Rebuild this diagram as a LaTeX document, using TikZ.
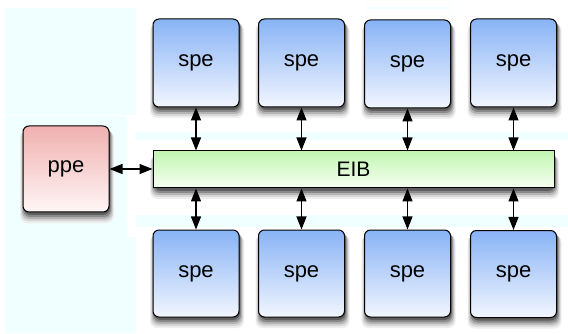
\documentclass[tikz,border=0pt]{standalone}
\usepackage{fontspec}
\setmainfont{Liberation Sans}
\usetikzlibrary{arrows.meta}
\definecolor{pale}{HTML}{F0FFFF}
\definecolor{speTop}{HTML}{88B3F5}
\definecolor{speBot}{HTML}{F2F6FF}
\definecolor{ppeTop}{HTML}{F0B0B0}
\definecolor{ppeBot}{HTML}{FFF6F6}
\definecolor{eibTop}{HTML}{C2F5B2}
\definecolor{eibBot}{HTML}{F6FFF2}
\definecolor{shA}{HTML}{EEEEEE}
\definecolor{shB}{HTML}{D6D6D6}
\definecolor{shC}{HTML}{B4B4B4}
\definecolor{shD}{HTML}{8A8A8A}
\definecolor{shE}{HTML}{5E5E5E}
\tikzset{
  unitbox/.style={draw=black,line width=1pt,rounded corners=6pt,
    minimum width=86pt,minimum height=88pt,font=\fontsize{22}{26}\selectfont},
  spebox/.style={unitbox,top color=speTop,bottom color=speBot},
  ppebox/.style={unitbox,top color=ppeTop,bottom color=ppeBot,minimum height=86pt},
  busbox/.style={draw=black,line width=1pt,top color=eibTop,bottom color=eibBot,
    minimum width=401pt,minimum height=37pt,font=\fontsize{21}{24}\selectfont},
  biarrow/.style={line width=1.2pt,>={Triangle[length=13pt,width=10pt]},<->},
  bgrect/.style={fill=pale,draw=none},
  shnode/.style={draw=none,fill=#1,rounded corners=7pt,inner sep=0pt,outer sep=0pt}
}
% #1 name, #2 #3 centre (y downwards), #4 width, #5 height
\newcommand\shadownodes[5]{%
  \node[shnode=shA,minimum width=#4pt+8pt,minimum height=#5pt+6pt] (#1-sa) at (#2+1,#3+8) {};
  \node[shnode=shB,minimum width=#4pt+6pt,minimum height=#5pt+5pt] (#1-sb) at (#2+1,#3+6.5) {};
  \node[shnode=shC,minimum width=#4pt+4pt,minimum height=#5pt+4pt] (#1-sc) at (#2+1,#3+5) {};
  \node[shnode=shD,minimum width=#4pt+2pt,minimum height=#5pt+3pt] (#1-sd) at (#2+1,#3+3.5) {};
  \node[shnode=shE,minimum width=#4pt,minimum height=#5pt+2pt] (#1-se) at (#2+1,#3+2) {};
}
\begin{document}
\begin{tikzpicture}[x=1pt,y=-1pt]
\useasboundingbox (0,0) rectangle (568,334);
\fill[white] (0,0) rectangle (568,334);
% pale background regions
\fill[bgrect] (5,8) rectangle (136,115);
\fill[bgrect] (5,116) rectangle (127,237);
\fill[bgrect] (5,237) rectangle (136,333);
\fill[bgrect] (136,132) rectangle (568,140);
\fill[bgrect] (136,215) rectangle (568,227);
\fill[bgrect] (365,7) rectangle (452,9);
% soft shadows
\shadownodes{eib}{353.5}{169.5}{401}{37}
\shadownodes{ppe}{66}{169}{86}{86}
\shadownodes{t1}{196}{63}{86}{88}
\shadownodes{t2}{301.5}{63}{86}{88}
\shadownodes{t3}{407.5}{64}{86}{88}
\shadownodes{t4}{513.5}{63}{86}{88}
\shadownodes{b1}{196}{273.5}{86}{87}
\shadownodes{b2}{301.5}{273.5}{86}{87}
\shadownodes{b3}{407.5}{273.5}{86}{87}
\shadownodes{b4}{513.5}{274}{86}{87}
% nodes
\node[busbox] (eib) at (353.5,169.5) {EIB};
\node[ppebox] (ppe) at (66,169) {ppe};
\node[spebox] (t1) at (196,63) {spe};
\node[spebox] (t2) at (301.5,63) {spe};
\node[spebox] (t3) at (407.5,64) {spe};
\node[spebox] (t4) at (513.5,63) {spe};
\node[spebox,minimum height=87pt] (b1) at (196,273.5) {spe};
\node[spebox,minimum height=87pt] (b2) at (301.5,273.5) {spe};
\node[spebox,minimum height=87pt] (b3) at (407.5,273.5) {spe};
\node[spebox,minimum height=87pt] (b4) at (513.5,274) {spe};
% connectors
\draw[biarrow] (ppe.east) -- (eib.west |- ppe.east);
\foreach \n in {1,2,3,4}{
  \draw[biarrow] (t\n.south) -- (eib.north -| t\n.south);
  \draw[biarrow] (eib.south -| b\n.north) -- (b\n.north);
}
\end{tikzpicture}
\end{document}
